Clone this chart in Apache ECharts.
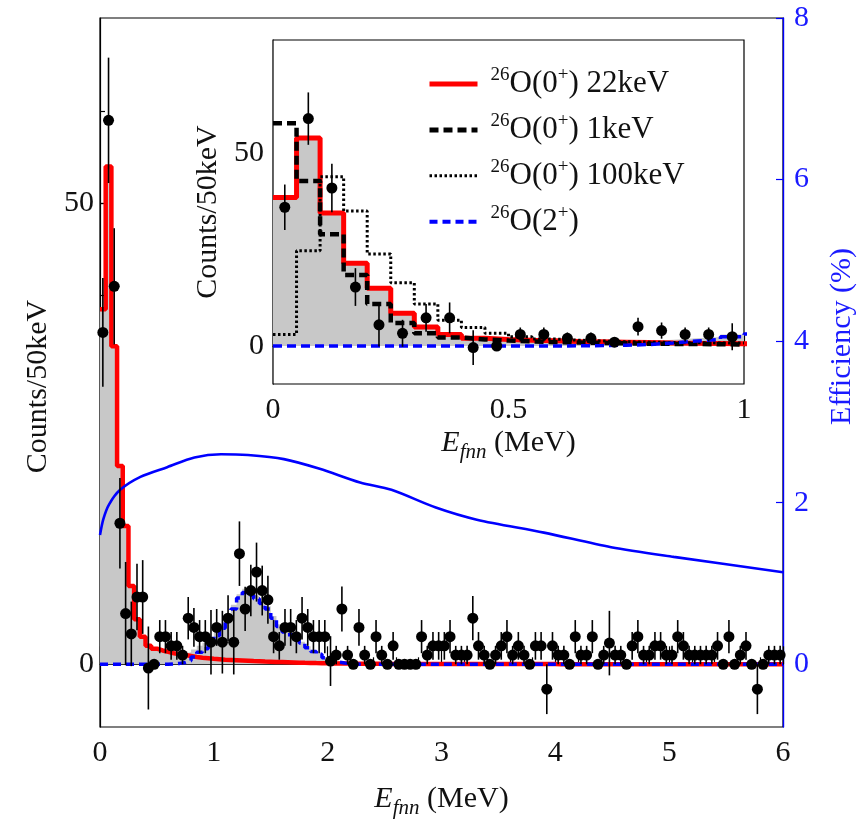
<!DOCTYPE html>
<html><head><meta charset="utf-8">
<script src="https://cdn.jsdelivr.net/npm/echarts@6/dist/echarts.min.js"></script>
<style>html,body{margin:0;padding:0;background:#fff}#c{width:865px;height:824px}</style>
</head><body><div id="c"></div>
<script>
// ---- data (50 keV bins from 0 to 6 MeV) ----
const binWidth = 0.05;
const dataCounts = [36, 59, 41, 15.3, 5.5, 3.3, 7.3, 7.3, -0.4, 0,
  3, 3, 2, 2, 1, 5, 4, 3, 3, 2.4,
  4, 2.4, 5, 2.4, 12, 6, 8, 10, 8, 7,
  3, 2, 4, 4, 3, 5, 4, 3, 3, 3,
  0.35, 1, 6, 1, 0, 4, 1, 0, 3, 1,
  0, 2, 0, 0, 0, 0, 3, 1, 2, 2,
  2, 3, 1, 1, 1, 5, 2, 1, 0, 1,
  2, 3, 1, 2, 1, 0, 2, 2, -2.7, 2,
  1, 1, 0, 3, 1, 1, 3, 0, 1, 2.3,
  1, 1, 0, 2, 3, 1, 1, 2, 2, 1,
  1, 3, 2, 1, 1, 1, 1, 1, 2, 0,
  3, 0, 1, 2, 0, -2.7, 0, 1, 1, 1];
const dataErrors = [5.9, 6.8, 6.3, 4.9, 5.6, 3.5, 3.6, 4.0, 4.5, 0,
  1.8, 1.8, 1.5, 1.5, 1.0, 2.3, 2.1, 1.8, 1.8, 3.5,
  2.0, 3.4, 2.5, 3.5, 3.5, 2.4, 2.8, 3.2, 2.7, 2.6,
  1.8, 1.5, 2.0, 2.0, 1.8, 2.3, 2.0, 1.8, 1.8, 1.8,
  2.7, 1.0, 2.45, 1.0, 0, 2.0, 1.0, 0, 1.8, 1.0,
  0, 1.5, 0, 0, 0, 0, 1.8, 1.0, 1.5, 1.5,
  1.5, 1.8, 1.0, 1.0, 1.0, 2.4, 1.5, 1.0, 0, 1.0,
  1.5, 1.8, 1.0, 1.5, 1.0, 0, 1.5, 1.5, 2.7, 1.5,
  1.0, 1.0, 0, 1.8, 1.0, 1.0, 1.8, 0, 1.0, 3.5,
  1.0, 1.0, 0, 1.5, 1.8, 1.0, 1.0, 1.5, 1.5, 1.0,
  1.0, 1.8, 1.5, 1.0, 1.0, 1.0, 1.0, 1.0, 1.5, 0,
  1.8, 0, 1.0, 1.5, 0, 2.7, 0, 1.0, 1.0, 1.0];
const fit22keV = [38.5, 54, 34.5, 21.5, 15, 8.5, 4.9, 3.0, 2.0, 1.7,
  1.5, 1.35, 1.2, 1.1, 1.0, 0.9, 0.8, 0.72, 0.66, 0.6,
  0.55, 0.5, 0.47, 0.44, 0.41, 0.38, 0.35, 0.33, 0.3, 0.28,
  0.26, 0.24, 0.22, 0.2, 0.18, 0.16, 0.15, 0.13, 0.12, 0.11,
  0.1, 0.09, 0.08, 0.08, 0.07, 0.06, 0.06, 0.05, 0.05, 0.04,
  0.04, 0.03, 0.03, 0.03, 0.03, 0.03, 0.03, 0.03, 0.03, 0.03,
  0.02, 0.02, 0.02, 0.02, 0.02, 0.02, 0.02, 0.02, 0.02, 0.02,
  0.02, 0.02, 0.02, 0.02, 0.02, 0.02, 0.02, 0.02, 0.02, 0.02,
  0.01, 0.01, 0.01, 0.01, 0.01, 0.01, 0.01, 0.01, 0.01, 0.01,
  0.01, 0.01, 0.01, 0.01, 0.01, 0.01, 0.01, 0.01, 0.01, 0.01,
  0, 0, 0, 0, 0, 0, 0, 0, 0, 0,
  0, 0, 0, 0, 0, 0, 0, 0, 0, 0];
const fit2plus = [0, 0, 0, 0, 0, 0, 0, 0, 0, 0,
  0, 0, 0.05, 0.1, 0.2, 0.4, 0.8, 1.3, 1.7, 2.4,
  3.1, 3.9, 5.0, 6.0, 7.2, 7.8, 7.5, 7.1, 6.6, 6.0,
  5.0, 4.1, 3.5, 3.2, 2.9, 2.3, 1.8, 1.4, 1.1, 0.7,
  0.4, 0.25, 0.15, 0.08, 0.04, 0, 0, 0, 0, 0,
  0, 0, 0, 0, 0, 0, 0, 0, 0, 0,
  0, 0, 0, 0, 0, 0, 0, 0, 0, 0,
  0, 0, 0, 0, 0, 0, 0, 0, 0, 0,
  0, 0, 0, 0, 0, 0, 0, 0, 0, 0,
  0, 0, 0, 0, 0, 0, 0, 0, 0, 0,
  0, 0, 0, 0, 0, 0, 0, 0, 0, 0,
  0, 0, 0, 0, 0, 0, 0, 0, 0, 0];
const fitTotal = [38.5, 54, 34.5, 21.5, 15, 8.5, 4.9, 3.0, 2.0, 1.7,
  1.5, 1.35, 1.25, 1.2, 1.2, 1.3, 1.6, 2.0, 2.35, 3.0,
  3.65, 4.4, 5.5, 6.45, 7.6, 8.2, 7.85, 7.45, 6.9, 6.3,
  5.25, 4.35, 3.7, 3.4, 3.1, 2.45, 1.95, 1.55, 1.2, 0.8,
  0.5, 0.35, 0.25, 0.15, 0.1, 0.06, 0.06, 0.05, 0.05, 0.04,
  0.04, 0.03, 0.03, 0.03, 0.03, 0.03, 0.03, 0.03, 0.03, 0.03,
  0.02, 0.02, 0.02, 0.02, 0.02, 0.02, 0.02, 0.02, 0.02, 0.02,
  0.02, 0.02, 0.02, 0.02, 0.02, 0.02, 0.02, 0.02, 0.02, 0.02,
  0.01, 0.01, 0.01, 0.01, 0.01, 0.01, 0.01, 0.01, 0.01, 0.01,
  0.01, 0.01, 0.01, 0.01, 0.01, 0.01, 0.01, 0.01, 0.01, 0.01,
  0, 0, 0, 0, 0, 0, 0, 0, 0, 0,
  0, 0, 0, 0, 0, 0, 0, 0, 0, 0];
// inset-only simulations (0-1 MeV)
const fit1keV = [57.8, 42.8, 29, 18.4, 10.9, 6.0, 3.3, 2.2, 1.7, 1.4,
  1.2, 1.0, 0.9, 0.8, 0.7, 0.6, 0.55, 0.5, 0.45, 0.4];
const fit100keV = [3.0, 24.7, 43.9, 35, 23.9, 16.4, 10.9, 6.7, 4.8, 3.3,
  2.4, 1.8, 1.5, 1.3, 1.1, 1.0, 0.9, 0.85, 0.8, 0.75];
// efficiency curve
const effEnergy = [0.0, 0.03, 0.08, 0.177, 0.355, 0.59, 0.83, 1.064, 1.30, 1.615, 1.93, 2.285, 2.56, 2.95, 3.31, 3.9, 4.49, 5.04, 6.0];
const effValue  = [1.60, 1.80, 1.98, 2.16, 2.32, 2.44, 2.56, 2.60, 2.59, 2.54, 2.42, 2.25, 2.16, 1.94, 1.79, 1.63, 1.45, 1.33, 1.14];
// tick labels
const leftTickLabels = [0, 50];
const leftMinorTicks = [0, 10, 20, 30, 40, 50, 60];
const rightTickLabels = [0, 2, 4, 6, 8];
const insetYTickLabels = [0, 50];
const legendNames = ['26O(0+) 22keV', '26O(0+) 1keV', '26O(0+) 100keV', '26O(2+)'];

// ---- helpers ----
const FONT = "'Liberation Serif', 'Times New Roman', serif";
function stepPts(arr) {
  const pts = arr.map((v, i) => [i * binWidth, v]);
  pts.push([arr.length * binWidth, arr[arr.length - 1]]);
  return pts;
}
function pointPts(arr) { return arr.map((v, i) => [(i + 0.5) * binWidth, v]); }
function errPts(vals, errs) { return vals.map((v, i) => [(i + 0.5) * binWidth, v - errs[i], v + errs[i]]); }
function renderErr(params, api) {
  const x = api.value(0), lo = api.value(1), hi = api.value(2);
  if (hi - lo <= 0) return null;
  const a = api.coord([x, lo]), b = api.coord([x, hi]);
  return { type: 'line', shape: { x1: a[0], y1: a[1], x2: b[0], y2: b[1] }, style: { stroke: '#000', lineWidth: 1.6 } };
}
const nInset = 20;
const insetCounts = dataCounts.slice(0, nInset);
const insetErrors = dataErrors.slice(0, nInset);

const labelStyle = { fontFamily: FONT, fontSize: 30, color: '#111' };
const titleRich = {
  i: { fontFamily: FONT, fontSize: 30, fontStyle: 'italic', color: '#111', lineHeight: 40 },
  sub: { fontFamily: FONT, fontSize: 21, fontStyle: 'italic', color: '#111', lineHeight: 22, verticalAlign: 'bottom' },
  n: { fontFamily: FONT, fontSize: 30, color: '#111', lineHeight: 40 }
};
const xTitle = '{i|E}{sub|fnn}{n| (MeV)}';
const noSym = { opacity: 0, borderWidth: 0 };

const chart = echarts.init(document.getElementById('c'), null, { renderer: 'canvas' });
const option = {
  backgroundColor: '#fff',
  animation: false,
  grid: [
    { left: 100, top: 18, width: 689, height: 713, show: true, borderColor: '#000', borderWidth: 1.2, backgroundColor: 'transparent' },
    { left: 273, top: 40, width: 471, height: 344, show: true, borderColor: '#000', borderWidth: 1.2, backgroundColor: '#fff', z: 10 }
  ],
  xAxis: [
    { gridIndex: 0, type: 'value', min: 0, max: 6, interval: 1,
      axisLine: { lineStyle: { color: '#000', width: 1.2 } },
      axisTick: { inside: true, length: 18, lineStyle: { color: '#000', width: 1.2 } },
      minorTick: { show: true, splitNumber: 5, length: 7, lineStyle: { color: '#000', width: 1.2 } },
      splitLine: { show: false },
      axisLabel: Object.assign({ margin: 11 }, labelStyle),
      name: xTitle, nameLocation: 'middle', nameGap: 52,
      nameTextStyle: { rich: titleRich } },
    { gridIndex: 1, type: 'value', min: 0, max: 1, interval: 0.5,
      axisLine: { lineStyle: { color: '#000', width: 1.2 } },
      axisTick: { inside: true, length: 12, lineStyle: { color: '#000', width: 1.2 } },
      minorTick: { show: true, splitNumber: 5, length: 7, lineStyle: { color: '#000', width: 1.2 } },
      splitLine: { show: false },
      axisLabel: Object.assign({ margin: 11, formatter: v => String(v) }, labelStyle),
      name: xTitle, nameLocation: 'middle', nameGap: 39,
      nameTextStyle: { rich: titleRich } }
  ],
  yAxis: [
    { gridIndex: 0, type: 'value', min: -6.8, max: 70.1, position: 'left',
      axisLine: { show: true, lineStyle: { color: '#000', width: 1.2 } },
      axisTick: { show: true, inside: true, length: 5, customValues: leftMinorTicks, lineStyle: { color: '#000', width: 1.2 } },
      axisLabel: Object.assign({ customValues: leftTickLabels, margin: 6 }, labelStyle),
      splitLine: { show: false },
      name: 'Counts/50keV', nameLocation: 'middle', nameRotate: 90, nameGap: 44,
      nameTextStyle: { fontFamily: FONT, fontSize: 30, color: '#111', padding: [0, 28, 0, 0] } },
    { gridIndex: 0, type: 'value', min: -0.776, max: 8, position: 'right',
      axisLine: { show: true, lineStyle: { color: '#0000ff', width: 1.4 } },
      axisTick: { show: true, inside: true, length: 7, customValues: rightTickLabels, lineStyle: { color: '#0000ff', width: 1.2 } },
      axisLabel: { customValues: rightTickLabels, margin: 11, fontFamily: FONT, fontSize: 30, color: '#1a1aff' },
      splitLine: { show: false },
      name: 'Efficiency (%)', nameLocation: 'middle', nameRotate: 90, nameGap: 44,
      nameTextStyle: { fontFamily: FONT, fontSize: 30, color: '#1a1aff', padding: [0, 0, 0, 72] } },
    { gridIndex: 0, type: 'value', min: -6.8, max: 70.1, position: 'left',
      axisLine: { show: false },
      axisTick: { show: true, inside: true, length: 9, customValues: leftTickLabels, lineStyle: { color: '#000', width: 1.2 } },
      axisLabel: { show: false }, splitLine: { show: false } },
    { gridIndex: 1, type: 'value', min: -9.86, max: 79.4,
      axisLine: { show: true, lineStyle: { color: '#000', width: 1.2 } },
      axisTick: { show: true, inside: true, length: 6, customValues: insetYTickLabels, lineStyle: { color: '#000', width: 1.2 } },
      axisLabel: Object.assign({ customValues: insetYTickLabels, margin: 9 }, labelStyle),
      splitLine: { show: false },
      name: 'Counts/50keV', nameLocation: 'middle', nameRotate: 90, nameGap: 50,
      nameTextStyle: { fontFamily: FONT, fontSize: 30, color: '#111' } }
  ],
  legend: {
    orient: 'vertical', left: 422, top: 61, itemWidth: 48, itemHeight: 14, itemGap: 12.4,
    z: 20,
    itemStyle: noSym,
    data: [
      { name: legendNames[0], lineStyle: { width: 5 }, itemStyle: noSym },
      { name: legendNames[1], lineStyle: { width: 5 }, itemStyle: noSym },
      { name: legendNames[2], lineStyle: { width: 3 }, itemStyle: noSym },
      { name: legendNames[3], lineStyle: { width: 4 }, itemStyle: noSym }
    ],
    formatter: function (name) {
      const m = name.match(/^26O\((\d)\+\)(.*)$/);
      return '{s|26}{n|O(' + m[1] + '}{s|+}{n|)' + m[2] + '}';
    },
    textStyle: {
      padding: [0, 0, 0, 8],
      rich: {
        n: { fontFamily: FONT, fontSize: 31, color: '#111', lineHeight: 36 },
        s: { fontFamily: FONT, fontSize: 19, color: '#111', lineHeight: 20, verticalAlign: 'top' }
      }
    }
  },
  series: [
    // ---- main plot ----
    { type: 'line', name: 'Total fit', xAxisIndex: 0, yAxisIndex: 0, step: 'end', symbol: 'none',
      data: stepPts(fitTotal), lineStyle: { width: 0 }, areaStyle: { color: '#c8c8c8', opacity: 1, origin: 0 }, z: 1 },
    { type: 'line', name: legendNames[0], xAxisIndex: 0, yAxisIndex: 0, step: 'end', symbol: 'none', showSymbol: false,
      data: stepPts(fit22keV), lineStyle: { color: '#ff0000', width: 4.5 }, itemStyle: { color: '#ff0000' }, z: 2 },
    { type: 'line', name: legendNames[3], xAxisIndex: 0, yAxisIndex: 0, step: 'end', symbol: 'none', showSymbol: false,
      data: stepPts(fit2plus), lineStyle: { color: '#0000ff', width: 3.5, type: [8, 5] }, itemStyle: { color: '#0000ff' }, z: 3 },
    { type: 'line', name: 'Efficiency', xAxisIndex: 0, yAxisIndex: 1, symbol: 'none', smooth: 0.3,
      data: effEnergy.map((e, i) => [e, effValue[i]]), lineStyle: { color: '#0000ff', width: 2.6 }, z: 3 },
    { type: 'custom', name: 'Data error', xAxisIndex: 0, yAxisIndex: 0, renderItem: renderErr,
      encode: { x: 0, y: [1, 2] }, data: errPts(dataCounts, dataErrors), clip: true, z: 4 },
    { type: 'scatter', name: 'Data', xAxisIndex: 0, yAxisIndex: 0, symbol: 'circle', symbolSize: 11,
      data: pointPts(dataCounts), itemStyle: { color: '#000', opacity: 1 }, z: 5 },
    // ---- inset ----
    { type: 'line', name: 'Total fit inset', xAxisIndex: 1, yAxisIndex: 3, step: 'end', symbol: 'none',
      data: stepPts(fitTotal), lineStyle: { width: 0 }, areaStyle: { color: '#c8c8c8', opacity: 1, origin: 0 }, z: 11 },
    { type: 'line', name: legendNames[0], xAxisIndex: 1, yAxisIndex: 3, step: 'end', symbol: 'none', showSymbol: false,
      data: stepPts(fit22keV), lineStyle: { color: '#ff0000', width: 5 }, itemStyle: { color: '#ff0000' }, z: 12 },
    { type: 'line', name: legendNames[1], xAxisIndex: 1, yAxisIndex: 3, step: 'end', symbol: 'none', showSymbol: false,
      data: stepPts(fit1keV), lineStyle: { color: '#000', width: 4.5, type: [9, 5] }, itemStyle: { color: '#000' }, z: 13 },
    { type: 'line', name: legendNames[2], xAxisIndex: 1, yAxisIndex: 3, step: 'end', symbol: 'none', showSymbol: false,
      data: stepPts(fit100keV), lineStyle: { color: '#000', width: 3, type: [2.5, 2.5] }, itemStyle: { color: '#000' }, z: 13 },
    { type: 'line', name: legendNames[3], xAxisIndex: 1, yAxisIndex: 3, step: 'end', symbol: 'none', showSymbol: false,
      data: stepPts(fit2plus), lineStyle: { color: '#0000ff', width: 3.5, type: [9, 5] }, itemStyle: { color: '#0000ff' }, z: 14 },
    { type: 'custom', name: 'Data error inset', xAxisIndex: 1, yAxisIndex: 3, renderItem: renderErr,
      encode: { x: 0, y: [1, 2] }, data: errPts(insetCounts, insetErrors), clip: true, z: 15 },
    { type: 'scatter', name: 'Data inset', xAxisIndex: 1, yAxisIndex: 3, symbol: 'circle', symbolSize: 11,
      data: pointPts(insetCounts), itemStyle: { color: '#000', opacity: 1 }, z: 16 }
  ]
};
chart.setOption(option);
</script>
</body></html>
